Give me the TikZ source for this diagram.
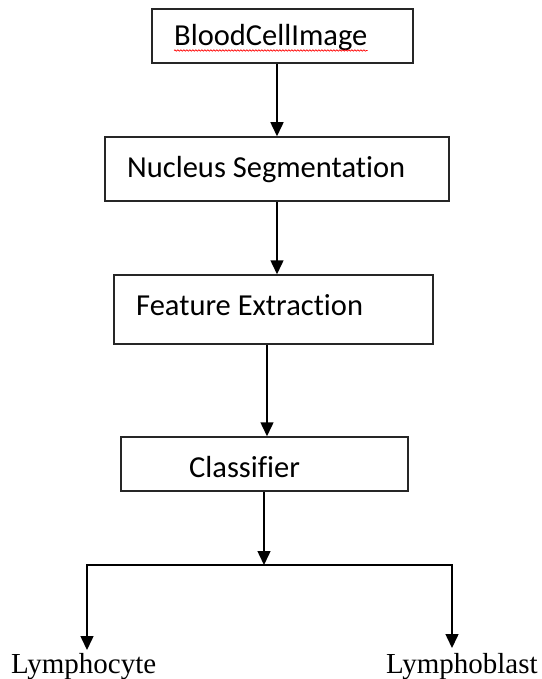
\documentclass[tikz,border=0pt]{standalone}
\usepackage{fontspec}
\setmainfont{Liberation Serif}
\newfontfamily\boxfont[Ligatures=NoCommon]{Carlito}
\usetikzlibrary{arrows.meta,decorations.pathmorphing}
\begin{document}
\begin{tikzpicture}[x=1pt,y=-1pt,
  stage/.style={draw=black!85, line width=1.5pt, rectangle, inner sep=0pt},
  stagetext/.style={inner sep=0pt, anchor=base west, font=\boxfont\fontsize{30.5}{36}\selectfont},
  outtext/.style={inner sep=0pt, anchor=base west, font=\fontsize{29}{34}\selectfont},
  flow/.style={line width=1.5pt, -{Triangle[length=14pt,width=13pt]}},
]
\useasboundingbox (0,0) rectangle (541,679);

% processing stages
\node[stage, minimum width=261pt, minimum height=54pt] (b1) at (282.5,36) {};
\node[stage, minimum width=344pt, minimum height=64pt] (b2) at (277,169) {};
\node[stage, minimum width=319pt, minimum height=69pt] (b3) at (273.5,309.5) {};
\node[stage, minimum width=287pt, minimum height=54pt] (b4) at (264.5,464) {};

\node[stagetext] (t1) at (174,46) {BloodCellImage};
\node[stagetext] (t2) at (127,177) {Nucleus Segmentation};
\node[stagetext] (t3) at (136,315) {Feature Extraction};
\node[stagetext] (t4) at (189,477) {Classifier};

% spell-check squiggle under the first label
\draw[red, line width=0.7pt, decorate, decoration={snake, amplitude=0.7pt, segment length=3pt}]
  ([yshift=-4.5pt]t1.base west) -- ([yshift=-4.5pt]t1.base east);

% outcome labels
\node[outtext] (o1) at (11,673) {Lymphocyte};
\node[outtext] (o2) at (386,673) {Lymphoblast};

% connectors
\draw[flow] (b1.south -| b2.north) -- (b2.north);
\draw[flow] (b2.south) -- (b2.south |- b3.north);
\draw[flow] ([xshift=2.5pt]b4.north |- b3.south) -- ([xshift=2.5pt]b4.north);

\coordinate (split) at (264,565);
\coordinate (tipL) at (87,650);
\coordinate (tipR) at (452,648);
\draw[flow] (b4.south -| split) -- (split);
\draw[flow] (split) -| (tipL);
\draw[flow] (split) -| (tipR);
\end{tikzpicture}
\end{document}
